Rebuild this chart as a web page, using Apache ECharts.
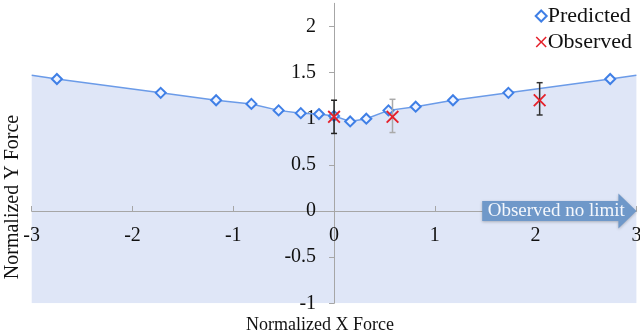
<!DOCTYPE html>
<html>
<head>
<meta charset="utf-8">
<style>
  html, body { margin: 0; padding: 0; background: #fff; }
  #chart { width: 640px; height: 334px; }
</style>
<script src="https://cdn.jsdelivr.net/npm/echarts@6/dist/echarts.min.js"></script>
</head>
<body>
<div id="chart"></div>
<script>
// ---- data ----
const xPred = [-2.75, -1.72, -1.17, -0.82, -0.55, -0.33, -0.15, 0, 0.16, 0.32, 0.54, 0.81, 1.18, 1.73, 2.74];
const yPred = [1.43, 1.28, 1.2, 1.16, 1.09, 1.06, 1.05, 1.03, 0.97, 1.0, 1.09, 1.13, 1.2, 1.28, 1.43];
// line continues to the plot edges without markers
const xEdge = [-3, 3];
const yEdge = [1.47, 1.47];

const xObs = [0, 0.58, 2.04];
const yObs = [1.02, 1.02, 1.2];
const obsLow = [0.84, 0.85, 1.04];
const obsHigh = [1.2, 1.21, 1.39];

const xTicks = [-3, -2, -1, 0, 1, 2, 3];
const yTicks = [-1, -0.5, 0, 0.5, 1, 1.5, 2];

const arrowFrom = 1.47;   // annotation arrow starts here (x units), ends at x = 3
const arrowText = 'Observed no limit';

(function () {
  'use strict';

  const C = {
    fill: '#dfe6f7',
    line: '#6b9be8',
    marker: '#3f7fe6',
    red: '#e5212b',
    axis: '#a6a6a6',
    ink: '#111',
    arrow: '#6f98c9',
  };
  const FONT = 'Liberation Serif';
  const errColors = ['#222', '#aaa', '#333'];
  const X_PATH = 'path://M0,1L1,0L5,4L9,0L10,1L6,5L10,9L9,10L5,6L1,10L0,9L4,5Z';

  // grid box (px) – axes cross at the data origin, so they are shifted in with offset
  const G = { left: 31.7, right: 3.6, top: 3.3, bottom: 30.7 };
  const W = 640, H = 334;
  const yMin = -1, yMax = 2.25, xMin = -3, xMax = 3;
  const plotW = W - G.left - G.right, plotH = H - G.top - G.bottom;
  const xAxisOffset = -plotH * (0 - yMin) / (yMax - yMin);
  const yAxisOffset = -plotW * (0 - xMin) / (xMax - xMin);

  // predicted line: edges + points (sorted by x)
  const predLine = [{ value: [xEdge[0], yEdge[0]], symbol: 'none' }]
    .concat(xPred.map((x, i) => [x, yPred[i]]))
    .concat([{ value: [xEdge[1], yEdge[1]], symbol: 'none' }]);

  const obsPts = xObs.map((x, i) => [x, yObs[i]]);
  const errData = xObs.map((x, i) => [x, obsLow[i], obsHigh[i], i]);

  const chart = echarts.init(document.getElementById('chart'), null, { renderer: 'canvas' });

  chart.setOption({
    animation: false,
    backgroundColor: '#fff',
    textStyle: { fontFamily: FONT },
    grid: Object.assign({ outerBoundsMode: 'none', containLabel: false }, G),
    legend: {
      orient: 'vertical',
      right: 3,
      top: 0,
      itemWidth: 11,
      itemHeight: 11,
      itemGap: 4,
      textStyle: { fontFamily: FONT, fontSize: 22, color: C.ink, padding: [0, 0, 0, -4] },
      data: [
        { name: 'Predicted', icon: 'diamond', itemStyle: { color: '#fff', borderColor: C.marker, borderWidth: 2 } },
        { name: 'Observed', icon: X_PATH, itemStyle: { color: C.red, borderWidth: 0 } },
      ],
    },
    xAxis: {
      type: 'value',
      min: xMin, max: xMax,
      z: 3,
      offset: xAxisOffset,
      axisLine: { onZero: false, lineStyle: { color: C.axis, width: 1 } },
      axisTick: { show: true, inside: true, length: 5, customValues: xTicks, lineStyle: { color: C.axis } },
      axisLabel: {
        customValues: xTicks, margin: 15,
        fontFamily: FONT, fontSize: 20, color: C.ink,
      },
      splitLine: { show: false },
    },
    yAxis: {
      type: 'value',
      min: yMin, max: yMax,
      z: 3,
      offset: yAxisOffset,
      axisLine: { onZero: false, lineStyle: { color: C.axis, width: 1 } },
      axisTick: { show: true, inside: false, length: 5, customValues: yTicks, lineStyle: { color: C.axis } },
      axisLabel: {
        customValues: yTicks, margin: 18,
        fontFamily: FONT, fontSize: 20, color: C.ink,
      },
      splitLine: { show: false },
    },
    series: [
      {
        // filled region only, below the axes
        type: 'line',
        name: 'area',
        data: predLine,
        symbol: 'none',
        lineStyle: { width: 0, opacity: 0 },
        areaStyle: { color: C.fill, opacity: 1, origin: 'start' },
        z: 1,
        silent: true,
      },
      {
        type: 'line',
        name: 'Predicted',
        data: predLine,
        symbol: 'diamond',
        symbolSize: 10,
        showAllSymbol: true,
        lineStyle: { color: C.line, width: 1.5 },
        itemStyle: { color: '#eef3ff', borderColor: C.marker, borderWidth: 2 },
        z: 4,
      },
      {
        type: 'custom',
        name: 'err',
        data: errData,
        z: 5,
        renderItem: function (params, api) {
          const x = api.value(0);
          const lo = api.coord([x, api.value(1)]);
          const hi = api.coord([x, api.value(2)]);
          const col = errColors[api.value(3)];
          const cap = 3;
          const st = { stroke: col, lineWidth: 1.5 };
          return {
            type: 'group',
            children: [
              { type: 'line', shape: { x1: lo[0], y1: lo[1], x2: hi[0], y2: hi[1] }, style: st },
              { type: 'line', shape: { x1: lo[0] - cap, y1: lo[1], x2: lo[0] + cap, y2: lo[1] }, style: st },
              { type: 'line', shape: { x1: hi[0] - cap, y1: hi[1], x2: hi[0] + cap, y2: hi[1] }, style: st },
            ],
          };
        },
      },
      {
        type: 'scatter',
        name: 'Observed',
        data: obsPts,
        symbol: X_PATH,
        symbolSize: 13,
        itemStyle: { color: C.red, opacity: 1 },
        z: 6,
      },
    ],
  });

  // ---- annotation arrow + axis titles ----
  const p0 = chart.convertToPixel({ gridIndex: 0 }, [arrowFrom, 0]);
  const p1 = chart.convertToPixel({ gridIndex: 0 }, [3, 0]);
  const bodyH = 10, headH = 17.5, headL = 18;
  const cy = p0[1];
  const hx = p1[0] - headL;
  const TFONT = '"Liberation Serif", serif';

  chart.setOption({
    graphic: [
      {
        type: 'polygon',
        z: 20,
        shape: {
          points: [
            [p0[0], cy - bodyH], [hx, cy - bodyH], [hx, cy - headH], [p1[0], cy],
            [hx, cy + headH], [hx, cy + bodyH], [p0[0], cy + bodyH],
          ],
        },
        style: { fill: C.arrow, shadowBlur: 3, shadowColor: 'rgba(0,0,0,0.25)', shadowOffsetY: 1 },
      },
      {
        type: 'text',
        z: 21,
        x: (p0[0] + p1[0]) / 2 - 3,
        y: cy,
        style: {
          text: arrowText, fill: '#f4f7fc',
          font: '19px ' + TFONT, align: 'center', verticalAlign: 'middle',
        },
      },
      {
        type: 'text',
        z: 21,
        x: 320, y: 325,
        style: { text: 'Normalized X Force', fill: C.ink, font: '18px ' + TFONT, align: 'center', verticalAlign: 'middle' },
      },
      {
        type: 'text',
        z: 21,
        x: 13, y: 197,
        rotation: Math.PI / 2,
        style: { text: 'Normalized Y Force', fill: C.ink, font: '20px ' + TFONT, align: 'center', verticalAlign: 'middle' },
      },
    ],
  });
})();
</script>
</body>
</html>
